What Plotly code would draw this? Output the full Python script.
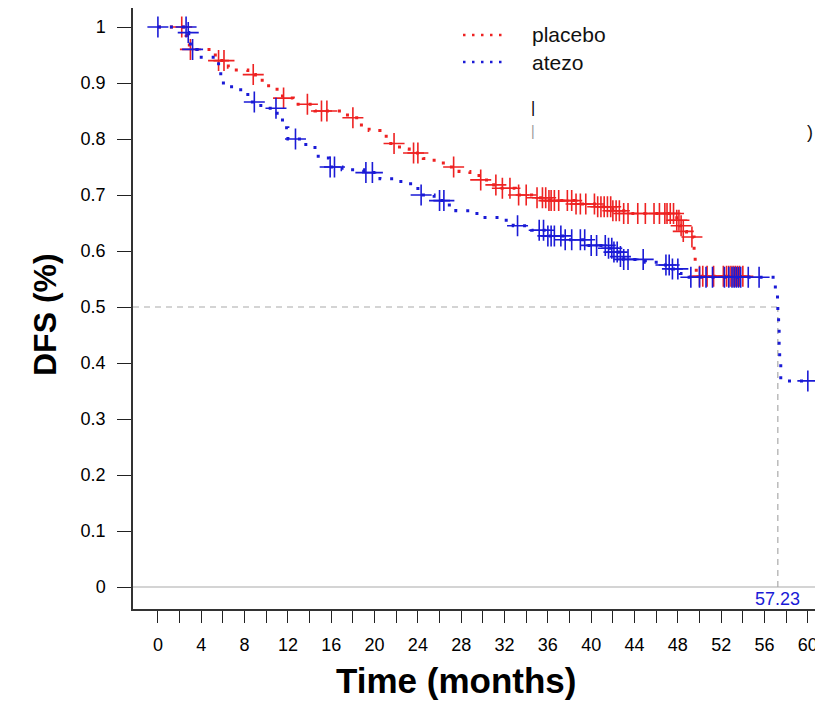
import numpy as np
import plotly.graph_objects as go

# ---------------- data ----------------
placebo_t = [0, 2.6, 2.9, 5.3, 6.5, 7.0, 8.3, 9.0, 10.0, 11.0, 11.5, 12.5, 14.5, 17.5, 18.5,
             19.5, 20.5, 21.5, 22.3, 23.2, 24.5, 25.5, 26.8, 27.8, 28.8, 29.8, 31.0, 31.5,
             33.0, 34.5, 36.0, 38.5, 40.5, 42.0, 43.0, 47.9, 48.2, 48.5, 48.8, 49.5, 49.6, 49.7, 54.0]
placebo_s = [1.0, 0.985, 0.96, 0.94, 0.928, 0.923, 0.915, 0.905, 0.895, 0.885, 0.873, 0.862, 0.85,
             0.838, 0.825, 0.815, 0.805, 0.792, 0.782, 0.775, 0.765, 0.757, 0.75, 0.742, 0.735,
             0.727, 0.718, 0.712, 0.70, 0.695, 0.69, 0.684, 0.679, 0.672, 0.667, 0.655, 0.645,
             0.635, 0.625, 0.60, 0.58, 0.555, 0.555]
placebo_cens = [2.2, 3.0, 5.6, 6.1, 8.8, 11.6, 13.8, 15.1, 15.6, 18.0, 21.8, 23.6, 24.0, 27.3,
                29.8, 31.2, 31.8, 32.5, 33.3, 34.0, 35.0, 35.5, 35.8, 36.1, 36.3, 36.6, 37.0,
                37.8, 38.2, 38.6, 39.0, 39.5, 40.3, 40.6, 40.9, 41.2, 41.5, 41.8, 42.0, 42.3,
                42.6, 43.0, 43.4, 44.3, 45.0, 45.8, 46.3, 46.8, 47.0, 47.3, 47.6, 47.9, 48.1,
                48.3, 48.5, 49.3, 50.0, 50.3, 50.7, 51.3, 52.2, 52.5, 52.7, 52.9, 53.1, 53.3,
                53.5, 53.7, 54.0]

atezo_t = [0, 2.7, 2.85, 3.0, 4.0, 5.3, 5.6, 5.8, 6.8, 7.8, 8.3, 9.5, 11.0, 11.5, 12.0, 13.5,
           14.5, 14.8, 15.8, 17.0, 19.0, 20.5, 22.0, 23.0, 24.0, 25.5, 26.5, 27.5, 29.0, 30.0,
           32.0, 32.8, 34.5, 36.0, 37.5, 39.5, 41.5, 42.0, 42.5, 43.0, 45.0, 46.5, 47.5, 48.2,
           48.6, 57.0, 57.2, 57.23, 57.3, 57.35, 57.4, 57.5, 60.0]
atezo_s = [1.0, 0.99, 0.975, 0.96, 0.946, 0.941, 0.92, 0.90, 0.888, 0.884, 0.866, 0.855, 0.846,
           0.82, 0.80, 0.79, 0.78, 0.766, 0.75, 0.745, 0.74, 0.729, 0.724, 0.72, 0.70, 0.69,
           0.682, 0.672, 0.667, 0.66, 0.655, 0.645, 0.637, 0.627, 0.62, 0.61, 0.605, 0.598,
           0.59, 0.585, 0.58, 0.575, 0.568, 0.56, 0.553, 0.53, 0.51, 0.49, 0.46, 0.43, 0.40,
           0.368, 0.368]
atezo_cens = [0.0, 2.6, 2.8, 3.2, 8.9, 10.9, 12.7, 15.9, 16.3, 19.2, 19.8, 24.3, 26.0, 26.4,
              33.2, 35.2, 35.6, 36.0, 36.3, 36.6, 37.2, 37.6, 38.2, 39.0, 39.4, 40.0, 40.5,
              41.3, 41.6, 41.9, 42.1, 42.4, 42.7, 43.0, 43.4, 44.8, 46.9, 47.2, 47.5, 48.0,
              49.2, 50.0, 50.6, 51.2, 52.3, 52.7, 53.0, 53.2, 53.4, 53.6, 53.8, 54.5, 55.5, 60.0]

median_time = 57.23
x_ticks = list(range(0, 61, 4))
x_minor = list(range(2, 60, 4))
y_ticks = [round(0.1 * i, 1) for i in range(11)]
y_labels = ["0", "0.1", "0.2", "0.3", "0.4", "0.5", "0.6", "0.7", "0.8", "0.9", "1"]
series_names = ["placebo", "atezo"]

RED = "#ee2222"
BLUE = "#1a1ad6"
FONT = "Liberation Sans, Arial"
DOTS = "3px,9px"

# page body has an 8px margin: figure spans x 8..823, y 8..701 of the window
PL, PR, PT, PB = 133, 823, 8, 609  # plot area in window pixels


def px_x(px):
    return (px - PL) / (PR - PL)


def px_y(py):
    return (PB - py) / (PB - PT)


def step_at(times, surv, pts):
    idx = np.searchsorted(np.array(times), np.array(pts), side="right") - 1
    return [surv[i] for i in idx]


fig = go.Figure()

for name, t, s, cens, col in [(series_names[0], placebo_t, placebo_s, placebo_cens, RED),
                              (series_names[1], atezo_t, atezo_s, atezo_cens, BLUE)]:
    fig.add_trace(go.Scatter(x=t, y=s, mode="lines", name=name, line_shape="hv", showlegend=False,
                             line=dict(color=col, width=3, dash=DOTS)))
    fig.add_trace(go.Scatter(x=cens, y=step_at(t, s, cens), mode="markers", showlegend=False,
                             marker=dict(symbol="cross-thin", size=15,
                                         line=dict(color=col, width=1.6))))

# reference lines
fig.add_shape(type="line", xref="paper", x0=0, x1=1, y0=0, y1=0,
              line=dict(color="#aaaaaa", width=1.2), layer="below")
fig.add_shape(type="line", xref="paper", x0=0, x1=px_x(779), y0=0.5, y1=0.5,
              line=dict(color="#aaaaaa", width=1.2, dash="6px,5px"), layer="below")
fig.add_shape(type="line", x0=median_time, x1=median_time, y0=0, y1=0.5,
              line=dict(color="#aaaaaa", width=1.2, dash="6px,5px"), layer="below")

fig.add_annotation(x=median_time, y=-0.021, text=f"{median_time:.2f}", showarrow=False,
                   font=dict(family=FONT, size=18, color=BLUE))

# manual legend
for i, (name, col) in enumerate(zip(series_names, [RED, BLUE])):
    yy = px_y(35 + 27 * i)
    fig.add_shape(type="line", xref="paper", yref="paper", x0=px_x(463), x1=px_x(507), y0=yy, y1=yy,
                  line=dict(color=col, width=2.5, dash="2.5px,6.5px"))
    fig.add_annotation(xref="paper", yref="paper", x=px_x(530), y=yy, text=name, showarrow=False,
                       xanchor="left", yanchor="middle",
                       font=dict(family=FONT, size=21, color="#111111"))

# remnants of covered text
fig.add_annotation(xref="paper", yref="paper", x=px_x(533), y=px_y(97), text="|", showarrow=False,
                   font=dict(family=FONT, size=16, color="#000000"))
fig.add_annotation(xref="paper", yref="paper", x=px_x(533), y=px_y(121), text="|", showarrow=False,
                   font=dict(family=FONT, size=14, color="#999999"))
fig.add_annotation(xref="paper", yref="paper", x=px_x(815), y=px_y(120), text=")", showarrow=False,
                   font=dict(family=FONT, size=18, color="#111111"))

# axis titles
fig.add_annotation(xref="paper", yref="paper", x=px_x(456), y=px_y(681),
                   xanchor="center", yanchor="middle",
                   text="<b>Time (months)</b>", showarrow=False,
                   font=dict(family=FONT, size=35, color="black"))
fig.add_annotation(xref="paper", yref="paper", x=px_x(45), y=px_y(315),
                   xanchor="center", yanchor="middle",
                   text="<b>DFS (%)</b>", showarrow=False, textangle=-90,
                   font=dict(family=FONT, size=32, color="black"))

fig.update_layout(
    width=815, height=693,
    margin=dict(l=PL - 8, r=0, t=PT - 8, b=701 - PB, autoexpand=False),
    plot_bgcolor="white", paper_bgcolor="white",
    font=dict(family=FONT, size=16, color="black"),
    showlegend=False,
    xaxis=dict(range=[-2.3, 61.4], tickvals=x_ticks, ticktext=[str(v) for v in x_ticks],
               ticks="outside", ticklen=12, tickwidth=1.3, tickcolor="#222222",
               minor=dict(tickvals=x_minor, ticks="outside", ticklen=12, tickwidth=1.3,
                          tickcolor="#222222", showgrid=False),
               showline=True, linecolor="#333333", linewidth=1.5, mirror=True,
               showgrid=False, zeroline=False, ticklabelstandoff=7, automargin=False,
               tickfont=dict(size=18)),
    yaxis=dict(range=[(587 - PB) / 560, (587 - PT) / 560], tickvals=y_ticks, ticktext=y_labels,
               ticks="outside", ticklen=14, tickwidth=1.3, tickcolor="#222222",
               showline=True, linecolor="#333333", linewidth=1.5,
               showgrid=False, zeroline=False, ticklabelstandoff=8, automargin=False,
               tickfont=dict(size=18)),
)

fig.write_html("out.html")
